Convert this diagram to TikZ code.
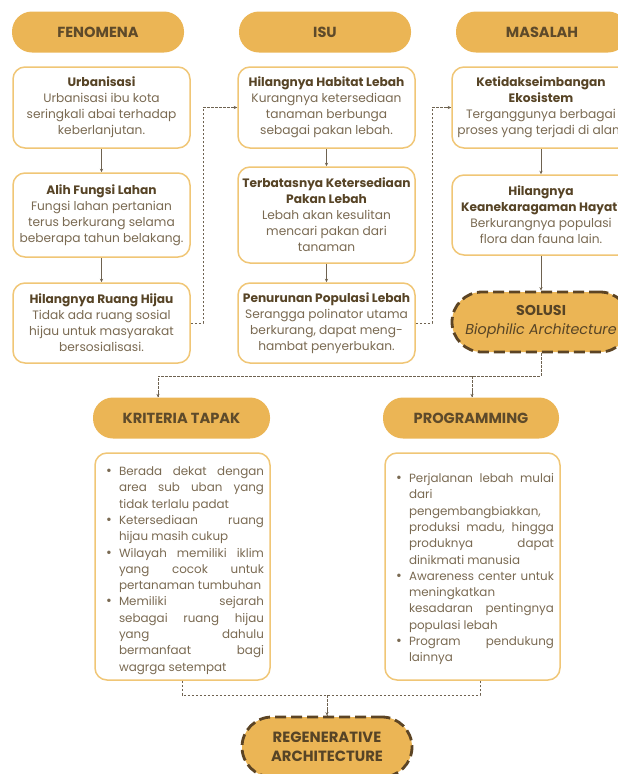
\documentclass[tikz,border=0pt]{standalone}
\usepackage{fontspec}
\setmainfont{Poppins}
\usepackage{enumitem}
\usetikzlibrary{arrows.meta,calc}
\definecolor{gold}{HTML}{EBB555}
\definecolor{boxline}{HTML}{F0C676}
\definecolor{hdrtext}{HTML}{5E4A2A}
\definecolor{titletext}{HTML}{574426}
\definecolor{bodytext}{HTML}{7A6A52}
\definecolor{darkdash}{HTML}{5C4424}
\definecolor{linec}{HTML}{6E6250}
\tikzset{
  hdr/.style={fill=gold, rounded corners=20pt, minimum width=172pt, minimum height=41pt, text=hdrtext, font=\bfseries\fontsize{14.6}{17}\selectfont, inner sep=0pt},
  infobox/.style={draw=boxline, line width=1.5pt, fill=white, rounded corners=12pt, minimum width=177pt, align=center, inner sep=0pt, font=\fontsize{12.2}{16}\selectfont, text=bodytext},
  keybox/.style={draw=darkdash, line width=2.8pt, dash pattern=on 11pt off 5pt, fill=gold, rounded corners=30pt, minimum width=178pt, minimum height=60pt, align=center, inner sep=0pt, text=titletext},
  conn/.style={draw=linec, line width=0.7pt, -{Stealth[length=3.5pt,width=3.2pt]}},
  dconn/.style={draw=linec, line width=0.7pt, dash pattern=on 2.5pt off 1.5pt},
  listtext/.style={text width=175pt, inner sep=0pt, align=justify, font=\fontsize{11.9}{16.3}\selectfont, text=bodytext}
}
\newcommand{\ttl}[1]{\textcolor{titletext}{\bfseries #1}}
\setlist[itemize]{leftmargin=24pt, rightmargin=6pt, labelsep=7pt, itemsep=0pt, topsep=0pt, parsep=0pt, partopsep=0pt, label={\fontsize{14}{14}\selectfont\textbullet}, before={\setlength{\baselineskip}{16.3pt}}}
\begin{document}
\begin{tikzpicture}[x=1pt,y=-1pt]
\tolerance=10000 \hbadness=10000 \hfuzz=20pt \hyphenpenalty=10000
\useasboundingbox (0,0) rectangle (618,774);
% headers
\node[hdr] (fen) at (98,32) {FENOMENA};
\node[hdr] (isu) at (325,32) {ISU};
\node[hdr] (mas) at (542,32) {MASALAH};
% column 1
\node[infobox, minimum height=81pt] (urb) at (101.5,107.5) {\ttl{Urbanisasi}\\Urbanisasi ibu kota\\seringkali abai terhadap\\keberlanjutan.};
\node[infobox, minimum height=84pt] (alih) at (101.5,215) {\ttl{Alih Fungsi Lahan}\\Fungsi lahan pertanian\\terus berkurang selama\\beberapa tahun belakang.};
\node[infobox, minimum height=80pt] (ruang) at (101.5,323) {\ttl{Hilangnya Ruang Hijau}\\Tidak ada ruang sosial\\hijau untuk masyarakat\\bersosialisasi.};
% column 2
\node[infobox, minimum height=81pt] (hab) at (326.5,107.5) {\ttl{Hilangnya Habitat Lebah}\\Kurangnya ketersediaan\\tanaman berbunga\\sebagai pakan lebah.};
\node[infobox, minimum height=96pt] (terb) at (326.5,215) {\ttl{Terbatasnya Ketersediaan}\\\ttl{Pakan Lebah}\\Lebah akan kesulitan\\mencari pakan dari\\tanaman};
\node[infobox, minimum height=80pt] (pen) at (326.5,323) {\ttl{Penurunan Populasi Lebah}\\Serangga polinator utama\\berkurang, dapat meng-\\hambat penyerbukan.};
% column 3
\node[infobox, minimum width=178pt, minimum height=81pt] (ket) at (541,107.5) {\ttl{Ketidakseimbangan}\\\ttl{Ekosistem}\\Terganggunya berbagai\\proses yang terjadi di alam};
\node[infobox, minimum width=178pt, minimum height=80pt] (kean) at (541,215) {\ttl{Hilangnya}\\\ttl{Keanekaragaman Hayati}\\Berkurangnya populasi\\flora dan fauna lain.};
\node[keybox, font=\fontsize{14.3}{19}\selectfont] (sol) at (541,322) {{\bfseries SOLUSI}\\{\itshape Biophilic Architecture}};
% lower headers
\node[hdr, minimum width=177pt] (krit) at (181.5,418) {KRITERIA TAPAK};
\node[hdr, minimum width=176pt] (prog) at (471,418) {PROGRAMMING};
% list boxes
\node[infobox, minimum width=175pt, minimum height=227pt] (kbox) at (182.5,566.5) {};
\node[infobox, minimum width=175pt, minimum height=227pt] (pbox) at (472.5,566.5) {};
\node[listtext, anchor=north] (klist) at (182.5,459) {%
\begin{itemize}
\item Berada dekat dengan\linebreak area sub uban yang\linebreak tidak terlalu padat
\item Ketersediaan ruang\linebreak hijau masih cukup
\item Wilayah memiliki iklim\linebreak yang cocok untuk\linebreak pertanaman tumbuhan
\item Memiliki sejarah\linebreak sebagai ruang hijau\linebreak yang dahulu\linebreak bermanfaat bagi\linebreak wagrga setempat
\end{itemize}};
\node[listtext, anchor=north] (plist) at (472.5,466) {%
\begin{itemize}
\item Perjalanan lebah mulai\linebreak dari\linebreak pengembangbiakkan,\linebreak produksi madu, hingga\linebreak produknya dapat\linebreak dinikmati manusia
\item Awareness center untuk\linebreak meningkatkan\linebreak kesadaran pentingnya\linebreak populasi lebah
\item Program pendukung\linebreak lainnya
\end{itemize}};
% final
\node[keybox, minimum width=170pt, font=\bfseries\fontsize{14.8}{19}\selectfont] (regen) at (327,747) {REGENERATIVE\\ARCHITECTURE};
% connectors
\draw[conn] (urb) -- (alih);
\draw[conn] (alih) -- (ruang);
\draw[conn] (hab) -- (terb);
\draw[conn] (terb) -- (pen);
\draw[conn] (ket.south -| kean.north) -- (kean.north);
\draw[conn] (kean) -- (sol);
\coordinate (c1) at (203,323);
\draw[dconn] (ruang.east) -- (c1) |- (hab.west);
\draw[conn] ($(hab.west)+(-6,0)$) -- (hab.west);
\coordinate (c2) at (432,323);
\draw[dconn] (pen.east) -- (c2) |- (ket.west);
\draw[conn] ($(ket.west)+(-6,0)$) -- (ket.west);
\coordinate (jl) at (158,376);
\coordinate (jr) at (472,376);
\draw[dconn] (sol.south) |- (jl) -- (jl |- krit.north);
\draw[conn] ($(jl |- krit.north)+(0,-6)$) -- (jl |- krit.north);
\draw[dconn] (jr) -- (jr |- prog.north);
\draw[conn] ($(jr |- prog.north)+(0,-6)$) -- (jr |- prog.north);
\coordinate (bl) at (182,695);
\coordinate (br) at (480,695);
\coordinate (bm) at (327,695);
\draw[dconn] (bl |- kbox.south) -- (bl) -- (br) -- (br |- pbox.south);
\draw[dconn] (bm) -- (regen.north);
\draw[conn] ($(regen.north)+(0,-6)$) -- (regen.north);
\end{tikzpicture}
\end{document}
